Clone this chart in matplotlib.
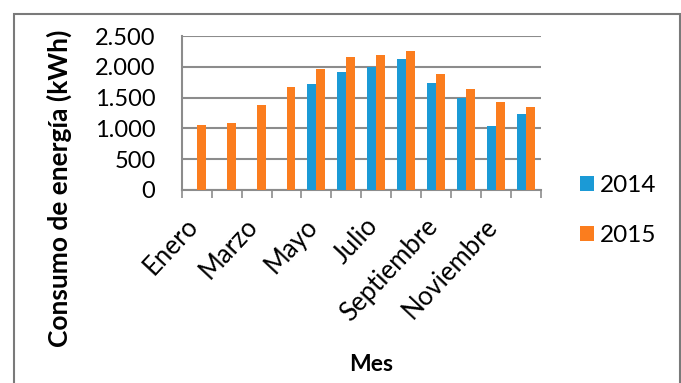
import numpy as np
import matplotlib.pyplot as plt
import matplotlib.transforms as mtransforms
from matplotlib.patches import Rectangle

# consumo mensual de energía (kWh)
meses = ['Enero', 'Febrero', 'Marzo', 'Abril', 'Mayo', 'Junio', 'Julio', 'Agosto',
         'Septiembre', 'Octubre', 'Noviembre', 'Diciembre']
consumo_2014 = [0, 0, 0, 0, 1720, 1920, 1990, 2120, 1740, 1500, 1040, 1230]
consumo_2015 = [1060, 1080, 1380, 1670, 1970, 2160, 2190, 2260, 1890, 1640, 1430, 1350]

plt.rcParams['font.family'] = ['Lato', 'DejaVu Sans']

fig = plt.figure(figsize=(6.81, 3.83), dpi=100)
ax = fig.add_axes([0.267, 0.504, 0.527, 0.402])

x = np.arange(len(meses))
ancho = 0.3
ax.bar(x - ancho / 2, consumo_2014, ancho, color='#1b9ad6', label='2014', zorder=3)
ax.bar(x + ancho / 2, consumo_2015, ancho, color='#fb7d1e', label='2015', zorder=3)

ax.set_xlim(-0.5, len(meses) - 0.5)
ax.set_ylim(0, 2500)
ax.set_yticks(range(0, 2501, 500))
ax.set_yticklabels(['0', '500', '1.000', '1.500', '2.000', '2.500'], fontsize=17)
ax.yaxis.grid(True, color='#8c8c8c', linewidth=1.5, zorder=0)
ax.tick_params(axis='y', length=0, pad=19)

# etiquetas solo cada dos meses, marcas en los bordes de categoría
ax.set_xticks(x[::2])
ax.set_xticklabels(meses[::2], rotation=47, ha='right', rotation_mode='anchor', fontsize=18.5)
ax.set_xticks(np.arange(-0.5, len(meses)), minor=True)
ax.tick_params(axis='x', which='major', length=0, pad=17)
ax.tick_params(axis='x', which='minor', length=6, width=1.2, color='#8c8c8c')
desplaza = mtransforms.ScaledTranslation(-12 / 100, 0, fig.dpi_scale_trans)
for lbl in ax.get_xticklabels():
    lbl.set_transform(lbl.get_transform() + desplaza)

for s in ['top', 'right']:
    ax.spines[s].set_visible(False)
for s in ['left', 'bottom']:
    ax.spines[s].set_color('#8c8c8c')
    ax.spines[s].set_linewidth(1.5)

ax.set_ylabel('Consumo de energía (kWh)', fontsize=19, fontweight='bold', va='center')
ax.yaxis.set_label_coords(-0.34, 0.012)
fig.text(0.545, 0.047, 'Mes', fontsize=16.5, fontweight='bold', ha='center', va='center')

fig.legend(loc='center left', bbox_to_anchor=(0.82, 0.45), frameon=False, fontsize=17.5,
           handlelength=0.55, handleheight=0.55, handletextpad=0.25, labelspacing=1.2)

# marco gris alrededor del gráfico
fig.patches.append(Rectangle((0.021, -0.1), 0.977, 1.063, transform=fig.transFigure,
                             fill=False, edgecolor='#7a7a7a', linewidth=1.5))

fig.savefig('out.png', dpi=100)
